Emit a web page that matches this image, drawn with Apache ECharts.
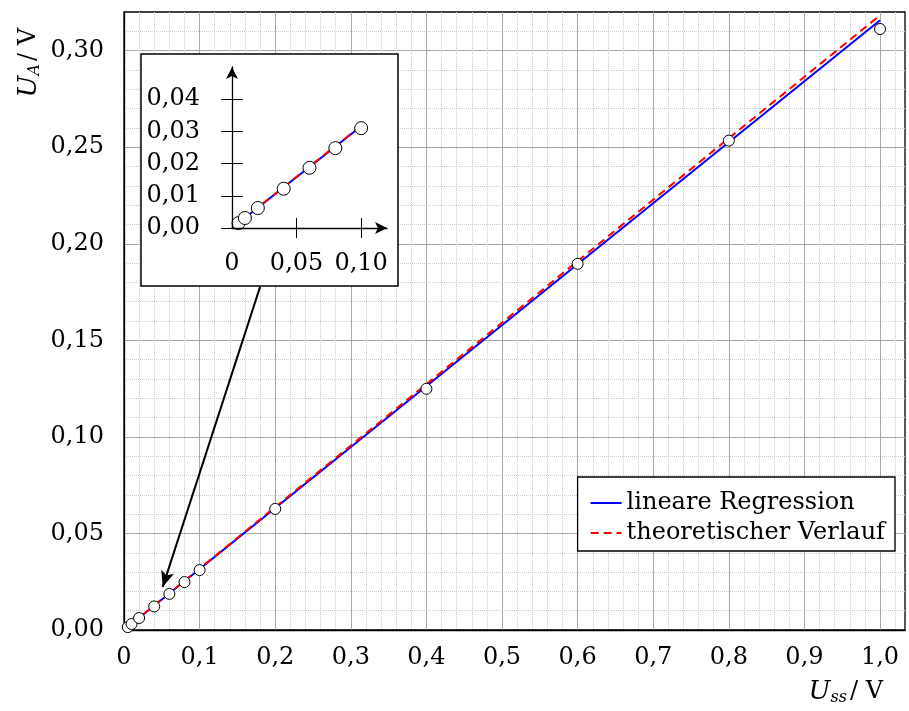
<!DOCTYPE html>
<html>
<head>
<meta charset="utf-8">
<script src="https://cdn.jsdelivr.net/npm/echarts@6.0.0/dist/echarts.min.js"></script>
<style>
html, body { margin: 0; padding: 0; background: #fff; }
#chart { width: 909px; height: 711px; }
</style>
</head>
<body>
<div id="chart"></div>
<script>
// Messwerte U_ss -> U_A
var messX = [0.005, 0.01, 0.02, 0.04, 0.06, 0.08, 0.1, 0.2, 0.4, 0.6, 0.8, 1.0];
var messY = [0.0015, 0.0031, 0.0062, 0.0122, 0.0187, 0.0248, 0.0310, 0.0627, 0.1249, 0.1896, 0.2534, 0.3112];
// Geraden (Endpunkte)
var regLine = [[0, 0], [1.0, 0.3157]];
var theoLine = [[0, 0], [1.0, 0.3183]];
var regLineZoom = [[0, 0], [0.1, 0.0316]];
var theoLineZoom = [[0, 0], [0.1, 0.0318]];
// Ausschnitt: Ticks
var zoomYTicks = [0, 0.01, 0.02, 0.03, 0.04];
var zoomXTicks = [0.05, 0.10];
var zoomXLabels = [0, 0.05, 0.10];
// Pfeil vom Ausschnitt zum Bereich
var arrowFrom = [0.18, 0.1777];
var arrowTo = [0.0512, 0.0223];

var FONT = 'DejaVu Serif';
var chart = echarts.init(document.getElementById('chart'));

var points = [], pointsZoom = [];
for (var i = 0; i < messX.length; i++) {
    points.push([messX[i], messY[i]]);
    if (messX[i] <= 0.1) pointsZoom.push([messX[i], messY[i]]);
}

function komma(d) {
    return function (v) { return v === 0 && d === 0 ? '0' : v.toFixed(d).replace('.', ','); };
}

var labelStyle = { fontFamily: FONT, fontSize: 24, color: '#000' };

var option = {
    animation: false,
    backgroundColor: '#fff',
    grid: [
        { left: 124, top: 12, right: 4, bottom: 81, show: true, borderColor: '#000', borderWidth: 1.3 },
        { left: 232, top: 67, width: 155, height: 161 }
    ],
    xAxis: [
        {
            type: 'value', gridIndex: 0, min: 0, max: 1.033, interval: 0.1,
            axisLine: { lineStyle: { color: '#000', width: 1.3 } },
            axisTick: { show: false },
            axisLabel: Object.assign({ margin: 16, showMaxLabel: false, formatter: function (v) { return v === 0 ? '0' : v.toFixed(1).replace('.', ','); } }, labelStyle),
            splitLine: { show: true, showMaxLine: false, lineStyle: { color: '#a8a8a8', width: 1 } },
            minorTick: { show: false, splitNumber: 5 },
            minorSplitLine: { show: true, lineStyle: { color: '#cccccc', type: 'dotted', width: 1 } }
        },
        {
            type: 'value', gridIndex: 1, min: 0, max: 0.12, interval: 0.05, z: 10,
            axisLine: { symbol: ['none', 'arrow'], symbolSize: [9, 12], lineStyle: { color: '#000', width: 1.3 } },
            axisTick: { show: true, length: 10, customValues: zoomXTicks, lineStyle: { color: '#000', width: 1 } },
            axisLabel: Object.assign({ margin: 24, customValues: zoomXLabels, formatter: function (v) { return v === 0 ? '0' : v.toFixed(2).replace('.', ','); } }, labelStyle),
            splitLine: { show: false }
        },
        {
            type: 'value', gridIndex: 1, min: 0, max: 0.12, interval: 0.05, position: 'bottom', z: 10,
            axisLine: { show: false },
            axisTick: { show: true, inside: true, length: 10, customValues: zoomXTicks, lineStyle: { color: '#000', width: 1 } },
            axisLabel: { show: false },
            splitLine: { show: false }
        }
    ],
    yAxis: [
        {
            type: 'value', gridIndex: 0, min: 0, max: 0.32, interval: 0.05,
            axisLine: { lineStyle: { color: '#000', width: 1.3 } },
            axisTick: { show: false },
            axisLabel: Object.assign({ margin: 20, showMaxLabel: false, formatter: komma(2) }, labelStyle),
            splitLine: { show: true, showMaxLine: false, lineStyle: { color: '#a8a8a8', width: 1 } },
            minorTick: { show: false, splitNumber: 5 },
            minorSplitLine: { show: true, lineStyle: { color: '#cccccc', type: 'dotted', width: 1 } }
        },
        {
            type: 'value', gridIndex: 1, min: 0, max: 0.05, interval: 0.01, z: 10,
            axisLine: { symbol: ['none', 'arrow'], symbolSize: [9, 12], lineStyle: { color: '#000', width: 1.3 } },
            axisTick: { show: true, length: 11, customValues: zoomYTicks, lineStyle: { color: '#000', width: 1 } },
            axisLabel: Object.assign({ margin: 32, customValues: zoomYTicks, formatter: function (v) { return v.toFixed(2).replace('.', ','); } }, labelStyle),
            splitLine: { show: false }
        },
        {
            type: 'value', gridIndex: 1, min: 0, max: 0.05, interval: 0.01, position: 'left', z: 10,
            axisLine: { show: false },
            axisTick: { show: true, inside: true, length: 11, customValues: zoomYTicks, lineStyle: { color: '#000', width: 1 } },
            axisLabel: { show: false },
            splitLine: { show: false }
        }
    ],
    legend: {
        orient: 'vertical', right: 14, top: 477,
        backgroundColor: '#fff', borderColor: '#000', borderWidth: 1.3, borderRadius: 0,
        padding: [14, 10, 6, 12], itemGap: 6, itemWidth: 31, itemHeight: 14,
        itemStyle: { opacity: 0 },
        textStyle: { fontFamily: FONT, fontSize: 24, color: '#000', lineHeight: 24 },
        data: ['lineare Regression', 'theoretischer Verlauf']
    },
    graphic: [
        {
            type: 'rect', z: 3,
            shape: { x: 141, y: 54, width: 257, height: 232 },
            style: { fill: '#fff', stroke: '#000', lineWidth: 1.5 }
        },
        {
            type: 'text', x: 883, y: 692, z: 5,
            style: {
                text: '{u|U}{s|ss}{n|/ V}', align: 'right', verticalAlign: 'middle', fill: '#000',
                rich: {
                    u: { fontFamily: FONT, fontStyle: 'italic', fontSize: 26 },
                    s: { fontFamily: FONT, fontStyle: 'italic', fontSize: 16, padding: [12, 3, 0, 0] },
                    n: { fontFamily: FONT, fontSize: 24 }
                }
            }
        },
        {
            type: 'text', x: 29, y: 28, rotation: Math.PI / 2, z: 5,
            style: {
                text: '{u|U}{s|A}{n|/ V}', align: 'right', verticalAlign: 'middle', fill: '#000',
                rich: {
                    u: { fontFamily: FONT, fontStyle: 'italic', fontSize: 26 },
                    s: { fontFamily: FONT, fontStyle: 'italic', fontSize: 16, padding: [12, 3, 0, 0] },
                    n: { fontFamily: FONT, fontSize: 24 }
                }
            }
        }
    ],
    series: [
        {
            name: 'lineare Regression', type: 'line', xAxisIndex: 0, yAxisIndex: 0,
            data: regLine, showSymbol: false, symbol: 'none', z: 3,
            lineStyle: { color: '#0000ff', width: 2 }, itemStyle: { color: '#0000ff' }
        },
        {
            name: 'theoretischer Verlauf', type: 'line', xAxisIndex: 0, yAxisIndex: 0,
            data: theoLine, showSymbol: false, symbol: 'none', z: 4,
            lineStyle: { color: '#ff0000', width: 2, type: [8, 5] }, itemStyle: { color: '#ff0000' }
        },
        {
            name: 'Messwerte', type: 'scatter', xAxisIndex: 0, yAxisIndex: 0,
            data: points, symbol: 'circle', symbolSize: 11, z: 5,
            itemStyle: { color: '#fff', borderColor: '#000', borderWidth: 1, opacity: 1 },
            markLine: {
                silent: true, symbol: ['none', 'arrow'], symbolSize: [10, 16], z: 6,
                label: { show: false },
                lineStyle: { color: '#000', width: 2, type: 'solid' },
                data: [[{ coord: arrowFrom }, { coord: arrowTo }]]
            }
        },
        {
            name: 'lineare Regression', type: 'line', xAxisIndex: 1, yAxisIndex: 1,
            data: regLineZoom, showSymbol: false, symbol: 'none', z: 6,
            lineStyle: { color: '#0000ff', width: 2 }
        },
        {
            name: 'theoretischer Verlauf', type: 'line', xAxisIndex: 1, yAxisIndex: 1,
            data: theoLineZoom, showSymbol: false, symbol: 'none', z: 7,
            lineStyle: { color: '#ff0000', width: 2, type: [8, 5] }
        },
        {
            name: 'Messwerte', type: 'scatter', xAxisIndex: 1, yAxisIndex: 1,
            data: pointsZoom, symbol: 'circle', symbolSize: 13, z: 8,
            itemStyle: { color: '#fff', borderColor: '#000', borderWidth: 1, opacity: 1 }
        }
    ]
};

chart.setOption(option);
</script>
</body>
</html>
